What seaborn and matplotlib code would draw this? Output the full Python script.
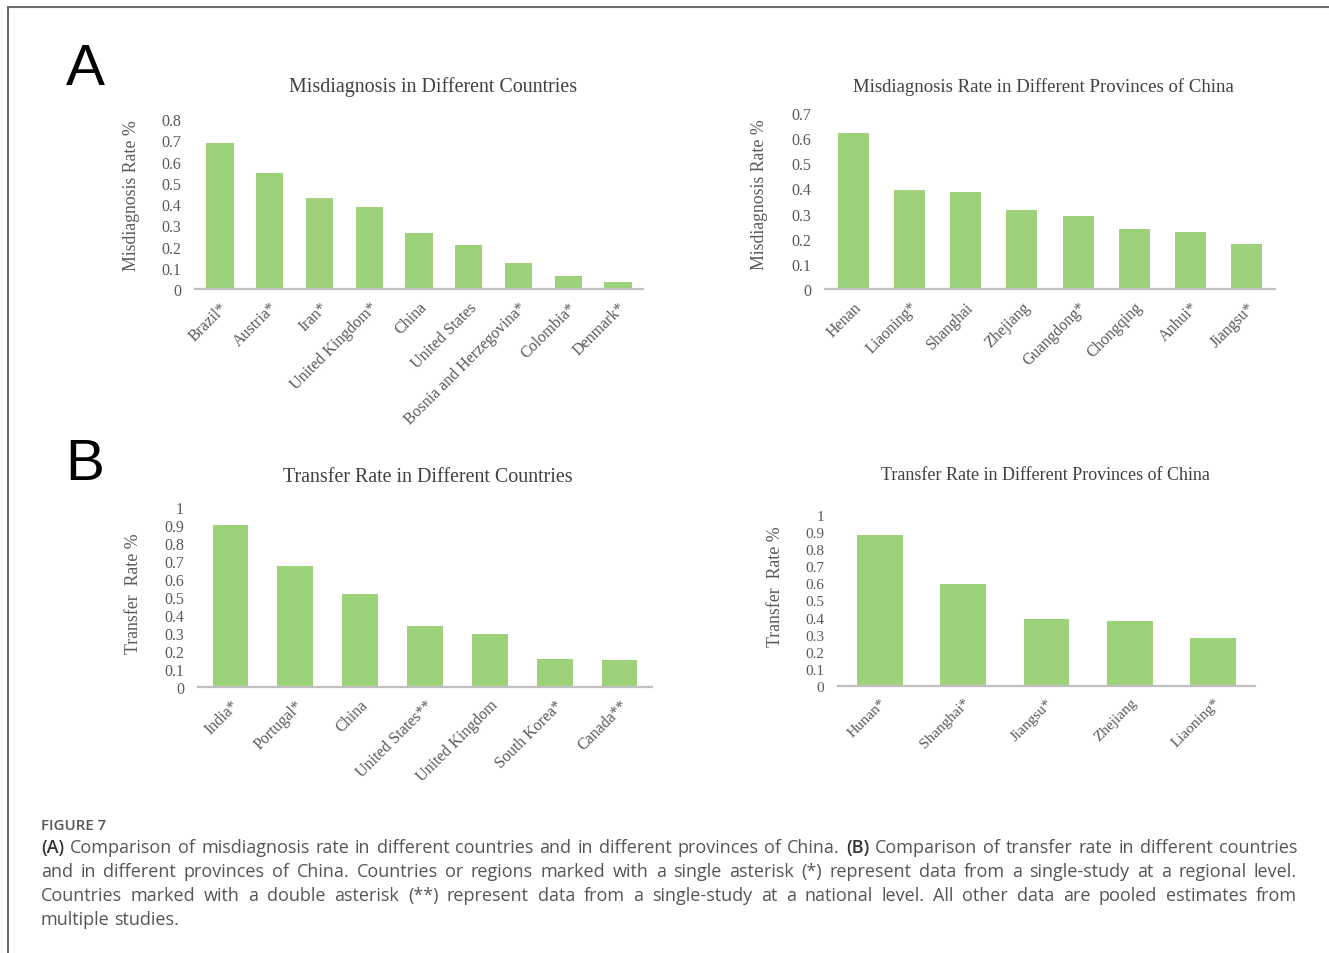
import numpy as np
import pandas as pd
import matplotlib
matplotlib.use("Agg")
import matplotlib.pyplot as plt
from matplotlib.lines import Line2D
from matplotlib.ticker import FixedLocator, FuncFormatter
import seaborn as sns

# ---- data ----
countries_misdiag = ["Brazil*", "Austria*", "Iran*", "United Kingdom*", "China",
                     "United States", "Bosnia and Herzegovina*", "Colombia*", "Denmark*"]
misdiag_country_rate = [0.685, 0.546, 0.427, 0.386, 0.265, 0.206, 0.124, 0.061, 0.035]

provinces_misdiag = ["Henan", "Liaoning*", "Shanghai", "Zhejiang", "Guangdong*",
                     "Chongqing", "Anhui*", "Jiangsu*"]
misdiag_province_rate = [0.619, 0.394, 0.386, 0.314, 0.292, 0.239, 0.228, 0.180]

countries_transfer = ["India*", "Portugal*", "China", "United States**",
                      "United Kingdom", "South Korea*", "Canada**"]
transfer_country_rate = [0.898, 0.673, 0.518, 0.339, 0.292, 0.157, 0.148]

provinces_transfer = ["Hunan*", "Shanghai*", "Jiangsu*", "Zhejiang", "Liaoning*"]
transfer_province_rate = [0.883, 0.598, 0.392, 0.382, 0.283]

caption_lines = [
    "(A) Comparison of misdiagnosis rate in different countries and in different provinces of China. (B) Comparison of transfer rate in different countries",
    "and in different provinces of China. Countries or regions marked with a single asterisk (*) represent data from a single-study at a regional level.",
    "Countries marked with a double asterisk (**) represent data from a single-study at a national level. All other data are pooled estimates from",
    "multiple studies.",
]

# ---- style ----
sns.set_theme(style="white")
plt.rcParams["font.family"] = ["Liberation Serif", "DejaVu Serif"]
BAR = "#9dd27a"
AXIS = "#bfbfbf"
TICK = "#595959"
TITLE = "#404040"

W, H = 1329, 954
fig = plt.figure(figsize=(W / 100, H / 100), dpi=100)
fig.patch.set_facecolor("white")


def px_axes(left, right, top, bottom):
    return fig.add_axes([left / W, 1 - bottom / H, (right - left) / W, (bottom - top) / H])


def panel(box, cats, vals, ymax, title, title_xy, title_size, ylabel, ylabel_xy,
          tsize=11.5):
    ax = px_axes(*box)
    df = pd.DataFrame({"cat": cats, "val": vals})
    sns.barplot(data=df, x="cat", y="val", color=BAR, width=0.55, saturation=1,
                linewidth=0, ax=ax)
    ax.set_ylim(0, ymax)
    ax.set_xlim(-0.5, len(cats) - 0.5)
    ticks = np.round(np.arange(0, ymax + 1e-9, 0.1), 1)
    ax.yaxis.set_major_locator(FixedLocator(ticks))
    ax.yaxis.set_major_formatter(FuncFormatter(lambda v, p: f"{v:g}"))
    ax.set_xticks(range(len(cats)))
    ax.set_xticklabels(cats, rotation=45, ha="right", rotation_mode="anchor")
    ax.tick_params(axis="y", length=0, pad=10, labelsize=tsize, labelcolor=TICK)
    ax.tick_params(axis="x", length=0, pad=7, labelsize=tsize, labelcolor=TICK)
    ax.set_xlabel("")
    ax.set_ylabel("")
    for s in ("top", "right", "left"):
        ax.spines[s].set_visible(False)
    ax.spines["bottom"].set_color(AXIS)
    ax.spines["bottom"].set_linewidth(1.6)
    ax.set_facecolor("none")
    fig.text(title_xy[0] / W, 1 - title_xy[1] / H, title, ha="center", va="center",
             fontsize=title_size, color=TITLE)
    fig.text(ylabel_xy[0] / W, 1 - ylabel_xy[1] / H, ylabel, ha="center", va="center",
             rotation=90, fontsize=12.8, color=TICK)
    return ax


panel((195, 643, 120, 290), countries_misdiag, misdiag_country_rate, 0.8,
      "Misdiagnosis in Different Countries", (433, 87), 14.4,
      "Misdiagnosis Rate %", (131, 196))
panel((825, 1275, 114, 290), provinces_misdiag, misdiag_province_rate, 0.7,
      "Misdiagnosis Rate in Different Provinces of China", (1043, 87), 13.5,
      "Misdiagnosis Rate %", (760, 195))
panel((198, 652, 508, 688), countries_transfer, transfer_country_rate, 1.0,
      "Transfer Rate in Different Countries", (428, 478), 14.4,
      "Transfer  Rate %", (134, 594))
panel((838, 1255, 516, 687), provinces_transfer, transfer_province_rate, 1.0,
      "Transfer Rate in Different Provinces of China", (1045, 476), 13,
      "Transfer  Rate %", (776, 587), tsize=11)

# panel letters
for letter, (x, y) in {"A": (85, 70), "B": (85, 465)}.items():
    fig.text(x / W, 1 - y / H, letter, ha="center", va="center", fontsize=42,
             family=["Liberation Sans", "DejaVu Sans"], color="black")

# frame lines on top and left
fig.add_artist(Line2D([8 / W, 1], [1 - 8 / H, 1 - 8 / H], color="#6b6b6b", lw=1.5,
                      transform=fig.transFigure))
fig.add_artist(Line2D([8 / W, 8 / W], [0, 1 - 8 / H], color="#6b6b6b", lw=1.5,
                      transform=fig.transFigure))

# ---- caption (justified) ----
CAP_FONT = ["Open Sans", "DejaVu Sans"]
CAP_COLOR = "#555555"
fig.text(41 / W, 1 - 826 / H, "FIGURE 7", ha="left", va="center", fontsize=10.8,
         family=CAP_FONT, weight="semibold", color=CAP_COLOR)

renderer = fig.canvas.get_renderer()
x0, x1 = 41, 1297


def text_width(s, size, bold=False):
    t = fig.text(0, 0, s, fontsize=size, family=CAP_FONT,
                 weight="semibold" if bold else "normal")
    w = t.get_window_extent(renderer).width
    t.remove()
    return w


def is_bold(wd):
    return wd in ("(A)", "(B)")


# largest size whose justified lines keep gaps at least one normal space wide
cap_size = 12.0
for size in np.arange(15.0, 11.0, -0.25):
    sp = text_width("a a", size) - text_width("aa", size)
    ok = True
    for line in caption_lines[:-1]:
        words = line.split(" ")
        total = sum(text_width(w, size, is_bold(w)) for w in words)
        if (x1 - x0 - total) / (len(words) - 1) < sp * 1.05:
            ok = False
            break
    if ok:
        cap_size = size
        break

space_w = text_width("a a", cap_size) - text_width("aa", cap_size)

for i, line in enumerate(caption_lines):
    y = 848 + 24 * i
    words = line.split(" ")
    objs = []
    for wd in words:
        b = is_bold(wd)
        t = fig.text(0, 1 - y / H, wd, ha="left", va="center", fontsize=cap_size,
                     family=CAP_FONT, weight="semibold" if b else "normal",
                     color="#333333" if b else CAP_COLOR)
        objs.append(t)
    widths = [t.get_window_extent(renderer).width for t in objs]
    justify = i < len(caption_lines) - 1
    gap = (x1 - x0 - sum(widths)) / (len(objs) - 1) if justify else space_w
    x = x0
    for t, w in zip(objs, widths):
        t.set_x(x / W)
        x += w + gap

fig.savefig("out.png", dpi=100, facecolor="white")
